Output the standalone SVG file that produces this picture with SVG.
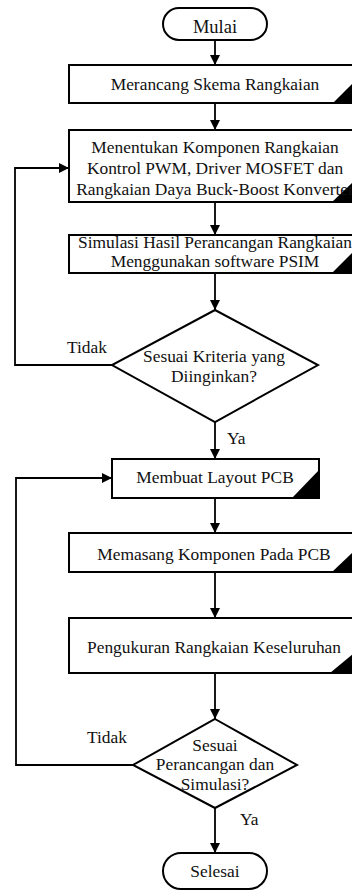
<svg xmlns="http://www.w3.org/2000/svg" width="352" height="891" viewBox="0 0 352 891">
<style>
.shape{fill:#fff;stroke:#000;stroke-width:2}
.tri{fill:#000;stroke:none}
.t{font-family:"Liberation Serif","Times New Roman",serif;font-size:17.4px;fill:#111;text-anchor:middle}
.l{font-family:"Liberation Serif","Times New Roman",serif;font-size:17.4px;fill:#111}
.c{fill:none;stroke:#000;stroke-width:1.8}
</style>
<defs>
<marker id="ah" viewBox="0 0 10 10" refX="10" refY="5" markerWidth="10" markerHeight="10" markerUnits="userSpaceOnUse" orient="auto">
<path d="M0,0 L10,5 L0,10 z" fill="#000"/>
</marker>
</defs>
<rect width="352" height="891" fill="#fff"/>
<g id="connectors">
<line class="c" x1="215" y1="40" x2="215" y2="65" marker-end="url(#ah)"/>
<line class="c" x1="215" y1="103" x2="215" y2="130" marker-end="url(#ah)"/>
<line class="c" x1="215" y1="202" x2="215" y2="235" marker-end="url(#ah)"/>
<line class="c" x1="215" y1="273" x2="215" y2="310" marker-end="url(#ah)"/>
<line class="c" x1="215" y1="422" x2="215" y2="459" marker-end="url(#ah)"/>
<line class="c" x1="215" y1="498" x2="215" y2="533" marker-end="url(#ah)"/>
<line class="c" x1="215" y1="572" x2="215" y2="618" marker-end="url(#ah)"/>
<line class="c" x1="215" y1="673" x2="215" y2="719" marker-end="url(#ah)"/>
<line class="c" x1="215" y1="808" x2="215" y2="853" marker-end="url(#ah)"/>
<polyline class="c" points="112,365 15,365 15,168 69,168" marker-end="url(#ah)"/>
<polyline class="c" points="133,765 16,765 16,478 112,478" marker-end="url(#ah)"/>
<text class="l" x="67" y="353">Tidak</text>
<text class="l" x="227" y="444">Ya</text>
<text class="l" x="87" y="743">Tidak</text>
<text class="l" x="240" y="825">Ya</text>
</g>
<g id="mulai">
<rect class="shape" x="163" y="8" width="104" height="32" rx="16"/>
<text class="t" x="215" y="33" style="font-size:18.5px">Mulai</text>
</g>
<g id="skema">
<rect class="shape" x="69" y="65" width="292" height="38"/>
<polygon class="tri" points="333,103 353,83 353,103"/>
<text class="t" x="215" y="90">Merancang Skema Rangkaian</text>
</g>
<g id="komponen">
<rect class="shape" x="69" y="130" width="292" height="72"/>
<polygon class="tri" points="332,202 353,182 353,202"/>
<text class="t" x="215" y="153">Menentukan Komponen Rangkaian</text>
<text class="t" x="215" y="174">Kontrol PWM, Driver MOSFET dan</text>
<text class="t" x="215" y="195">Rangkaian Daya Buck-Boost Konverter</text>
</g>
<g id="simulasi">
<rect class="shape" x="69" y="235" width="292" height="38"/>
<polygon class="tri" points="332,273 353,252 353,273"/>
<text class="t" x="215" y="248">Simulasi Hasil Perancangan Rangkaian</text>
<text class="t" x="215" y="267">Menggunakan software PSIM</text>
</g>
<g id="kriteria">
<polygon class="shape" points="215,310 318,365 215,422 112,365"/>
<text class="t" x="214" y="362">Sesuai Kriteria yang</text>
<text class="t" x="214" y="382">Diinginkan?</text>
</g>
<g id="layout">
<rect class="shape" x="112" y="459" width="207" height="39"/>
<polygon class="tri" points="292,498 319,470 319,498"/>
<text class="t" x="215" y="483">Membuat Layout PCB</text>
</g>
<g id="memasang">
<rect class="shape" x="69" y="533" width="292" height="39"/>
<polygon class="tri" points="332,572 353,552 353,572"/>
<text class="t" x="214" y="560">Memasang Komponen Pada PCB</text>
</g>
<g id="pengukuran">
<rect class="shape" x="69" y="618" width="292" height="55"/>
<polygon class="tri" points="330,673 353,654 353,673"/>
<text class="t" x="214" y="653">Pengukuran Rangkaian Keseluruhan</text>
</g>
<g id="sesuai">
<polygon class="shape" points="215,719 297,765 215,808 133,765"/>
<text class="t" x="215" y="751">Sesuai</text>
<text class="t" x="215" y="770">Perancangan dan</text>
<text class="t" x="215" y="790">Simulasi?</text>
</g>
<g id="selesai">
<rect class="shape" x="163" y="853" width="104" height="36" rx="18"/>
<text class="t" x="215" y="877">Selesai</text>
</g>
</svg>
